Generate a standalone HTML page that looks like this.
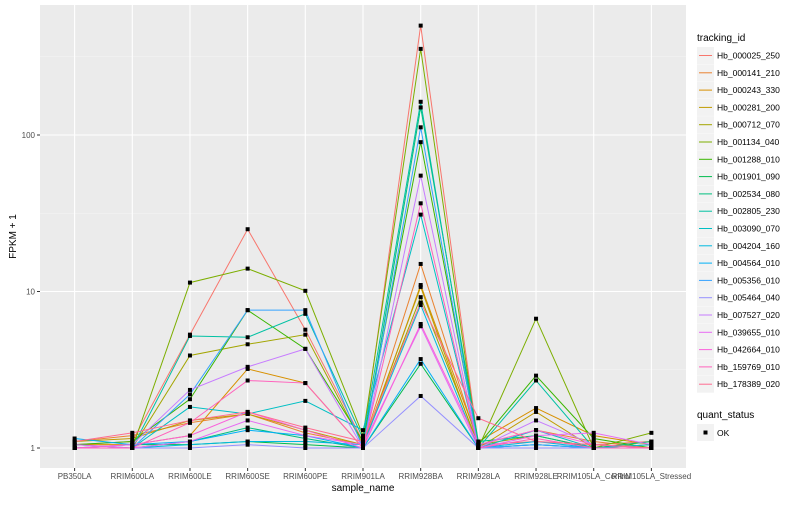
<!DOCTYPE html>
<html><head><meta charset="utf-8"><style>
body{margin:0;background:#fff;font-family:"Liberation Sans",sans-serif}
svg text{font-family:"Liberation Sans",sans-serif}
</style></head><body>
<svg id="c" width="800" height="500" xmlns="http://www.w3.org/2000/svg"></svg>
<script>
const categories=["PB350LA","RRIM600LA","RRIM600LE","RRIM600SE","RRIM600PE","RRIM901LA","RRIM928BA","RRIM928LA","RRIM928LE","RRIM105LA_Control","RRIM105LA_Stressed"];
const seriesNames=["Hb_000025_250","Hb_000141_210","Hb_000243_330","Hb_000281_200","Hb_000712_070","Hb_001134_040","Hb_001288_010","Hb_001901_090","Hb_002534_080","Hb_002805_230","Hb_003090_070","Hb_004204_160","Hb_004564_010","Hb_005356_010","Hb_005464_040","Hb_007527_020","Hb_039655_010","Hb_042664_010","Hb_159769_010","Hb_178389_020"];
const s0=[1.05,1.1,5.3,25,5.7,1.1,500,1.05,1.1,1.05,1.1];
const s1=[1.1,1.2,1.45,1.65,1.25,1.05,15,1.05,1.3,1.1,1.0];
const s2=[1.05,1.05,1.2,3.2,2.6,1.0,11,1.1,1.8,1.2,1.05];
const s3=[1.1,1.15,1.5,1.65,1.3,1.05,10.7,1.0,1.7,1.0,1.1];
const s4=[1.0,1.0,3.9,4.6,5.3,1.05,9.2,1.05,1.2,1.0,1.05];
const s5=[1.0,1.0,11.4,14,10.1,1.2,355,1.0,6.7,1.0,1.25];
const s6=[1.05,1.1,2.05,7.6,4.3,1.1,90,1.05,2.9,1.15,1.0];
const s7=[1.0,1.05,1.05,1.1,1.05,1.0,3.45,1.0,1.05,1.0,1.0];
const s8=[1.05,1.0,1.1,1.35,1.15,1.0,150,1.1,1.2,1.0,1.1];
const s9=[1.0,1.0,5.2,5.1,7.2,1.15,163,1.0,2.7,1.0,1.0];
const s10=[1.0,1.0,1.83,1.65,2.0,1.3,31,1.0,1.3,1.0,1.0];
const s11=[1.0,1.0,1.05,1.1,1.1,1.05,8.2,1.0,1.1,1.0,1.05];
const s12=[1.15,1.05,1.1,1.3,1.2,1.0,3.7,1.0,1.05,1.0,1.0];
const s13=[1.0,1.0,2.2,7.6,7.6,1.0,112,1.0,1.05,1.0,1.0];
const s14=[1.0,1.0,1.0,1.05,1.0,1.0,2.15,1.0,1.0,1.0,1.0];
const s15=[1.0,1.05,2.35,3.3,4.3,1.0,55,1.0,1.5,1.05,1.0];
const s16=[1.05,1.0,1.1,1.5,1.2,1.05,6,1.0,1.2,1.25,1.05];
const s17=[1.0,1.05,1.2,1.7,1.3,1.0,6.2,1.05,1.3,1.05,1.0];
const s18=[1.0,1.0,1.45,2.7,2.6,1.0,36.6,1.0,1.15,1.0,1.0];
const s19=[1.1,1.25,1.5,1.7,1.35,1.1,8.5,1.55,1.1,1.05,1.0];
const seriesValues=[s0,s1,s2,s3,s4,s5,s6,s7,s8,s9,s10,s11,s12,s13,s14,s15,s16,s17,s18,s19];
const yTicks=[1,10,100];
const yTickLabels=["1","10","100"];
const colors=["#F8766D","#EA8331","#D89000","#C09B00","#A3A500","#7CAE00","#39B600","#00BB4E","#00BF7D","#00C1A3","#00BFC4","#00BAE0","#00B0F6","#35A2FF","#9590FF","#C77CFF","#E76BF3","#FA62DB","#FF62BC","#FF6C91"];

const NS="http://www.w3.org/2000/svg";
const svg=document.getElementById('c');
function el(tag,attrs,parent){const e=document.createElementNS(NS,tag);for(const k in attrs)e.setAttribute(k,attrs[k]);(parent||svg).appendChild(e);return e;}
const L=40,R=686,T=5,B=468;
const step=(R-L)/(categories.length-1+1.2);
function xs(i){return L+step*(0.6+i);}
function ys(v){return 448-156.5*Math.log10(v);}

const panel=el('rect',{x:L,y:T,width:R-L,height:B-T,fill:'#EBEBEB'});


[Math.sqrt(10),Math.sqrt(1000),Math.sqrt(100000)].forEach(v=>{
  const g=el('line',{x1:L,x2:R,y1:ys(v),y2:ys(v),stroke:'#F5F5F5','stroke-width':0.6});
  
  
});
yTicks.forEach((v,i)=>{
  const g=el('line',{x1:L,x2:R,y1:ys(v),y2:ys(v),stroke:'#fff','stroke-width':1.1});
  
  
  el('line',{x1:L-3,x2:L,y1:ys(v),y2:ys(v),stroke:'#333','stroke-width':1});
  const t=el('text',{x:L-5,y:ys(v)+3,'text-anchor':'end','font-size':8,fill:'#4D4D4D'});
  t.textContent=yTickLabels[i];
  
  
});
categories.forEach((c,i)=>{
  const g=el('line',{x1:xs(i),x2:xs(i),y1:T,y2:B,stroke:'#fff','stroke-width':1.1});
  
  
  el('line',{x1:xs(i),x2:xs(i),y1:B,y2:B+3,stroke:'#333','stroke-width':1});
  const t=el('text',{x:xs(i),y:B+11,'text-anchor':'middle','font-size':8,fill:'#4D4D4D'});
  t.textContent=c;
  
  
});
seriesValues.forEach((vals,si)=>{
  const p=el('polyline',{points:vals.map((v,i)=>xs(i)+','+ys(v)).join(' '),fill:'none',stroke:colors[si],'stroke-width':1});
  
  
});
seriesValues.forEach((vals,si)=>{
  vals.forEach((v,i)=>{
    const r=el('rect',{x:xs(i)-2,y:ys(v)-2,width:4,height:4,fill:'#000'});
    
    
  });
});
let t=el('text',{x:(L+R)/2,y:491,'text-anchor':'middle','font-size':10,fill:'#000'});
t.textContent='sample_name';


t=el('text',{x:16,y:(T+B)/2,'text-anchor':'middle','font-size':10,fill:'#000',transform:'rotate(-90 16 '+((T+B)/2)+')'});
t.textContent='FPKM + 1';


t=el('text',{x:697,y:41,'font-size':10,fill:'#000'});
t.textContent='tracking_id';


seriesNames.forEach((n,i)=>{
  const y=47+i*17.3;
  const g=el('g',{});
  
  
  el('rect',{x:697,y:y,width:17,height:17,fill:'#F2F2F2'},g);
  el('line',{x1:699,x2:712,y1:y+8.5,y2:y+8.5,stroke:colors[i],'stroke-width':1},g);
  const tt=el('text',{x:717,y:y+11.5,'font-size':8.5,fill:'#000'},g);
  tt.textContent=n;
});
t=el('text',{x:697,y:418,'font-size':10,fill:'#000'});
t.textContent='quant_status';


const g2=el('g',{});


el('rect',{x:697,y:424,width:17,height:17,fill:'#F2F2F2'},g2);
el('rect',{x:703.5,y:430.5,width:4,height:4,fill:'#000'},g2);
const ok=el('text',{x:717,y:436,'font-size':8.5,fill:'#000'},g2);
ok.textContent='OK';
</script>
</body></html>
